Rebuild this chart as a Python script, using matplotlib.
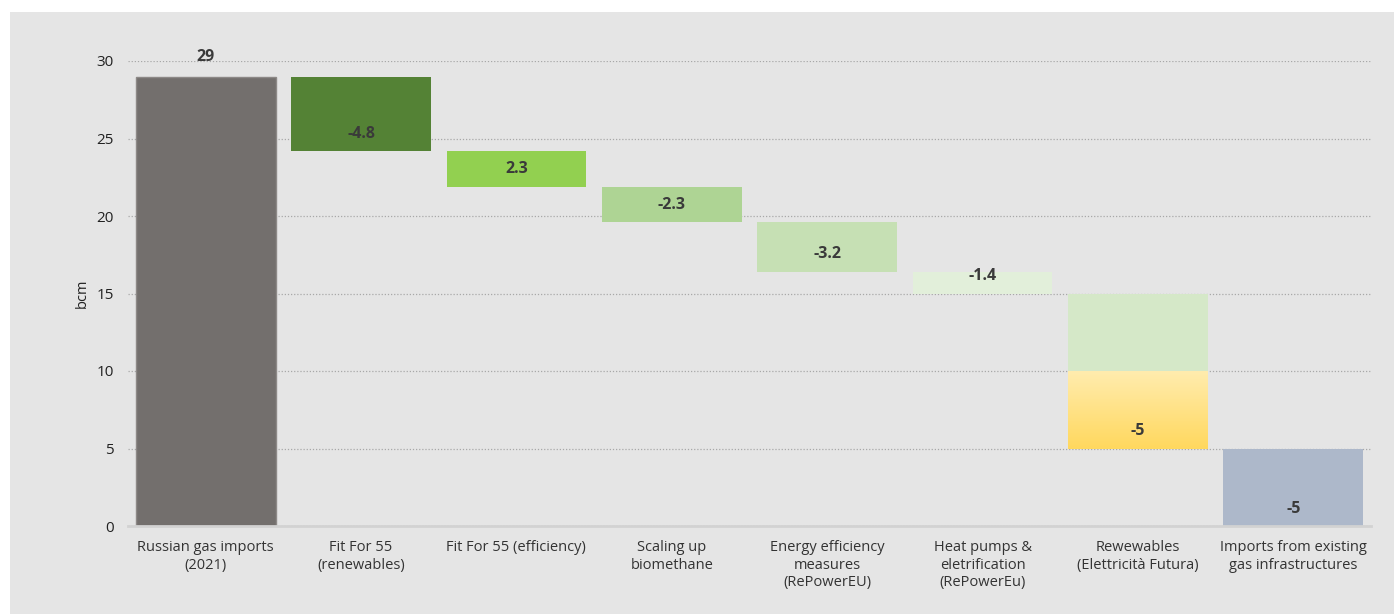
import numpy as np
import matplotlib.pyplot as plt
from matplotlib.colors import LinearSegmentedColormap
from matplotlib.patches import Rectangle

plt.rcParams['font.family'] = ['Open Sans', 'DejaVu Sans']

categories = ["Russian gas imports\n(2021)", "Fit For 55\n(renewables)", "Fit For 55 (efficiency)",
              "Scaling up\nbiomethane", "Energy efficiency\nmeasures\n(RePowerEU)",
              "Heat pumps &\neletrification\n(RePowerEu)", "Rewewables\n(Elettricità Futura)",
              "Imports from existing\ngas infrastructures"]
imports_2021 = 29

# each reduction step: which column it sits in, its size, its printed label
step_cat = [1, 2, 3, 4, 5, 6, 6, 7]
step_delta = [-4.8, -2.3, -2.3, -3.2, -1.4, -5, -5, -5]
step_label = ["-4.8", "2.3", "-2.3", "-3.2", "-1.4", "", "-5", "-5"]
step_color = ["#548235", "#92d050", "#aed494", "#c6e0b4", "#e2efda", "#d5e8c8", None, "#adb8ca"]

fig = plt.figure(figsize=(13.94, 6.14), dpi=100)
fig.patches.append(Rectangle((10 / 1394, 0), 1, 602 / 614, transform=fig.transFigure,
                             facecolor="#e5e5e5", edgecolor="none", zorder=-10))
ax = fig.add_axes([128 / 1394, 88 / 614, 1243 / 1394, 465 / 614])
ax.set_facecolor("none")

w = 0.9
x = np.arange(len(categories))
ax.bar(x[0], imports_2021, width=w, color="#736f6d", edgecolor="#8d8987", linewidth=1, zorder=2)
ax.annotate(str(imports_2021), (x[0], imports_2021), xytext=(0, 14), textcoords="offset points",
            ha="center", va="center", fontsize=11.5, fontweight="bold", color="#3a3a3a")

yellow = LinearSegmentedColormap.from_list("yl", ["#ffd85e", "#ffecae"])
level = imports_2021
for c, d, lab, col in zip(step_cat, step_delta, step_label, step_color):
    bottom = level + d
    if col is None:
        grad = np.linspace(0, 1, 100).reshape(-1, 1)
        ax.imshow(grad, cmap=yellow, origin="lower", aspect="auto",
                  extent=(x[c] - w / 2, x[c] + w / 2, bottom, level), zorder=2)
    else:
        ax.bar(x[c], -d, bottom=bottom, width=w, color=col, edgecolor="none", zorder=2)
    if lab:
        ax.annotate(lab, (x[c], bottom), xytext=(0, 12.5), textcoords="offset points",
                    ha="center", va="center", fontsize=11.5, fontweight="bold", color="#3a3a3a", zorder=3)
    level = bottom

ax.set_xlim(-0.5, 7.5)
ax.set_ylim(0, 30)
ax.set_yticks([0, 5, 10, 15, 20, 25, 30])
ax.yaxis.grid(True, linestyle=(0, (1, 1.5)), color="#a8a8a8", linewidth=0.9, zorder=1)
ax.set_axisbelow(True)
ax.set_xticks(x)
ax.set_xticklabels(categories, fontsize=10.5, color="#333333", linespacing=1.25)
ax.tick_params(axis="x", length=0, pad=10)
ax.tick_params(axis="y", length=0, pad=10, labelsize=11, labelcolor="#222222")
for s in ["top", "right", "left"]:
    ax.spines[s].set_visible(False)
ax.spines["bottom"].set_color("#d2d2d2")
ax.spines["bottom"].set_linewidth(2)
ax.set_ylabel("bcm", fontsize=10.5, color="#222222", labelpad=5)

fig.savefig("out.png", dpi=100)
